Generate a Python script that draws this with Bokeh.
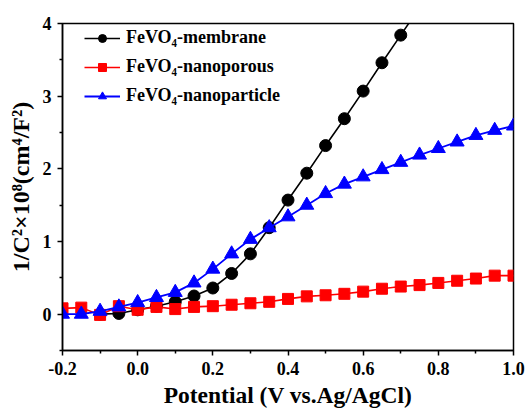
from bokeh.plotting import figure
from bokeh.models import Legend, LegendItem, FixedTicker, Range1d
from bokeh.embed import file_html
from bokeh.resources import INLINE

# ---- data ----
membrane_x = [-0.1, -0.05, 0.0, 0.05, 0.1, 0.15, 0.2, 0.25, 0.3, 0.35, 0.4, 0.45, 0.5, 0.55, 0.6, 0.65, 0.7, 0.75]
membrane_y = [0.0, 0.01, 0.06, 0.11, 0.17, 0.25, 0.36, 0.56, 0.83, 1.19, 1.57, 1.94, 2.32, 2.69, 3.07, 3.46, 3.84, 4.22]

nanoporous_x = [-0.2, -0.15, -0.1, -0.05, 0.0, 0.05, 0.1, 0.15, 0.2, 0.25, 0.3, 0.35, 0.4, 0.45, 0.5,
                0.55, 0.6, 0.65, 0.7, 0.75, 0.8, 0.85, 0.9, 0.95, 1.0]
nanoporous_y = [0.08, 0.09, -0.01, 0.11, 0.06, 0.10, 0.07, 0.10, 0.11, 0.13, 0.15, 0.17, 0.21, 0.245, 0.26,
                0.28, 0.31, 0.35, 0.38, 0.40, 0.43, 0.46, 0.49, 0.53, 0.53]

nanoparticle_x = [-0.2, -0.15, -0.1, -0.05, 0.0, 0.05, 0.1, 0.15, 0.2, 0.25, 0.3, 0.35, 0.4, 0.45, 0.5,
                  0.55, 0.6, 0.65, 0.7, 0.75, 0.8, 0.85, 0.9, 0.95, 1.0]
nanoparticle_y = [0.0, 0.0, 0.04, 0.10, 0.16, 0.23, 0.30, 0.43, 0.62, 0.83, 1.03, 1.19, 1.34, 1.50, 1.66,
                  1.79, 1.89, 1.99, 2.09, 2.19, 2.28, 2.37, 2.46, 2.53, 2.59]

x_ticks = [-0.2, 0.0, 0.2, 0.4, 0.6, 0.8, 1.0]
y_ticks = [0, 1, 2, 3, 4]
x_minor = [-0.1, 0.1, 0.3, 0.5, 0.7, 0.9]
y_minor = [-0.5, 0.5, 1.5, 2.5, 3.5]

labels = ["FeVO\u2084-membrane", "FeVO\u2084-nanoporous", "FeVO\u2084-nanoparticle"]

FONT = "Liberation Serif"

p = figure(width=527, height=410, output_backend="svg", toolbar_location=None,
           x_range=Range1d(-0.2, 1.0), y_range=Range1d(-0.5, 4.0),
           min_border_left=62, min_border_right=14, min_border_top=23, min_border_bottom=56)
p.background_fill_color = "white"
p.border_fill_color = "white"
p.xgrid.visible = False
p.ygrid.visible = False
p.outline_line_color = "black"
p.outline_line_width = 1.5

# series
l1 = p.line(membrane_x, membrane_y, line_color="black", line_width=1.6)
m1 = p.scatter(membrane_x, membrane_y, marker="circle", size=12, fill_color="black", line_color="black")
l2 = p.line(nanoporous_x, nanoporous_y, line_color="#ff0000", line_width=1.6)
m2 = p.scatter(nanoporous_x, nanoporous_y, marker="square", size=11, fill_color="#ff0000", line_color="#ff0000")
l3 = p.line(nanoparticle_x, nanoparticle_y, line_color="#0000ff", line_width=1.8)
m3 = p.scatter(nanoparticle_x, nanoparticle_y, marker="triangle", size=14, fill_color="#0000ff", line_color="#0000ff")

# axes
for ax in (p.xaxis[0], p.yaxis[0]):
    ax.axis_line_width = 1.5
    ax.axis_line_color = "black"
    ax.major_tick_in = 0
    ax.major_tick_out = 5
    ax.minor_tick_in = 0
    ax.minor_tick_out = 3
    ax.major_tick_line_width = 1.5
    ax.minor_tick_line_width = 1.5
    ax.major_label_text_font = FONT
    ax.major_label_text_font_style = "bold"
    ax.major_label_text_font_size = "18px"
    ax.major_label_text_color = "black"
    ax.axis_label_text_font = FONT
    ax.axis_label_text_font_style = "bold"
    ax.axis_label_text_color = "black"

p.xaxis[0].ticker = FixedTicker(ticks=x_ticks, minor_ticks=x_minor)
p.yaxis[0].ticker = FixedTicker(ticks=y_ticks, minor_ticks=y_minor)
p.xaxis[0].major_label_overrides = {v: ("%.1f" % v) for v in x_ticks}
p.xaxis[0].major_label_standoff = 6
p.yaxis[0].major_label_standoff = 6

p.xaxis[0].axis_label = "Potential (V vs.Ag/AgCl)"
p.xaxis[0].axis_label_text_font_size = "23.5px"
p.xaxis[0].axis_label_standoff = 4
p.yaxis[0].axis_label = "1/C\u00b2\u00d710\u2078(cm\u2074/F\u00b2)"
p.yaxis[0].axis_label_text_font_size = "24px"
p.yaxis[0].axis_label_standoff = 6

legend = Legend(items=[
    LegendItem(label=labels[0], renderers=[l1, m1]),
    LegendItem(label=labels[1], renderers=[l2, m2]),
    LegendItem(label=labels[2], renderers=[l3, m3]),
], location="top_left")
legend.border_line_color = None
legend.background_fill_alpha = 0
legend.label_text_font = FONT
legend.label_text_font_style = "bold"
legend.label_text_font_size = "18px"
legend.label_text_color = "black"
legend.glyph_width = 36
legend.glyph_height = 20
legend.label_height = 20
legend.label_standoff = 6
legend.spacing = 8
legend.padding = 10
legend.margin = 0
legend.location = (22, 244)
p.add_layout(legend)

open("out.html", "w").write(file_html(p, INLINE))
